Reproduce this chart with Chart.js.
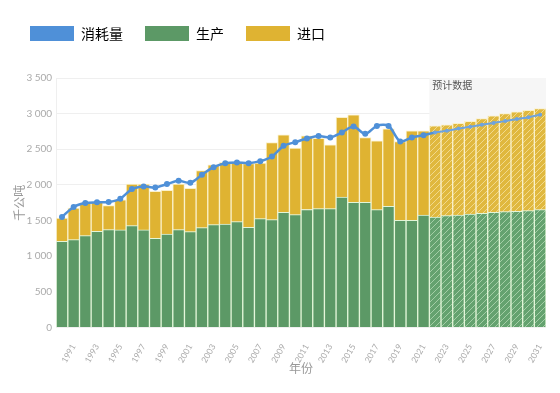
<!DOCTYPE html>
<html lang="zh">
<head>
    <meta charset="UTF-8">
    <title>消耗量 生产 进口</title>
    <script src="https://cdn.jsdelivr.net/npm/chart.js@4.4.1/dist/chart.umd.min.js"></script>
    <style>
        html, body { margin: 0; padding: 0; background: #fff; }
        #box { width: 560px; height: 393px; }
    </style>
</head>
<body>
<div id="box"><canvas id="chart01"></canvas></div>

<script>
    // ---------------- 数据 ----------------
    var years = [];
    for (var y = 1990; y <= 2031; y++) years.push(y);

    var firstForecast = 2022;

    // 生产
    var production = [1208, 1232, 1288, 1349, 1372, 1368, 1428, 1368, 1251, 1311,
        1372, 1344, 1400, 1442, 1451, 1484, 1404, 1526, 1512, 1615,
        1582, 1655, 1666, 1666, 1829, 1755, 1755, 1652, 1699, 1503,
        1503, 1577, 1549, 1568, 1577, 1591, 1600, 1615, 1624, 1629,
        1638, 1652];

    // 进口
    var imports = [327, 443, 457, 406, 336, 424, 583, 643, 658, 612,
        639, 607, 802, 840, 864, 831, 896, 779, 1083, 1087,
        933, 1033, 989, 896, 1120, 1227, 910, 966, 1087, 1106,
        1255, 1181, 1279, 1274, 1288, 1302, 1331, 1353, 1377, 1395,
        1409, 1419];

    // 消耗量
    var consumption = [1550, 1690, 1745, 1755, 1760, 1806, 1941, 1979, 1965, 2011,
        2058, 2030, 2142, 2249, 2305, 2315, 2305, 2333, 2399, 2548,
        2600, 2650, 2685, 2665, 2735, 2819, 2716, 2828, 2828, 2609,
        2665, 2697, 2735, 2760, 2790, 2815, 2845, 2870, 2895, 2925,
        2950, 2985];

    // ---------------- 样式 ----------------
    var BLUE = '#4f90d8';
    var GREEN = '#5c9966';
    var YELLOW = '#dfb332';
    var CJK = '"Noto Sans CJK SC", "Noto Sans", sans-serif';
    var NUM = 'Lato, "Noto Sans", sans-serif';

    // 斜线填充（预测部分）
    function hatch(base, line) {
        var c = document.createElement('canvas');
        c.width = 6; c.height = 6;
        var g = c.getContext('2d');
        g.fillStyle = base;
        g.fillRect(0, 0, 6, 6);
        g.strokeStyle = line;
        g.lineWidth = 1;
        g.beginPath();
        g.moveTo(0, 6); g.lineTo(6, 0);
        g.moveTo(-3, 3); g.lineTo(3, -3);
        g.moveTo(3, 9); g.lineTo(9, 3);
        g.stroke();
        return g.createPattern(c, 'repeat');
    }

    var greenHatch = hatch('#64a26f', 'rgba(190,225,190,0.7)');
    var yellowHatch = hatch('#e0b83e', 'rgba(245,225,160,0.8)');

    function isForecast(i) { return years[i] >= firstForecast; }

    // 预测区域背景 + 文字
    var forecastBand = {
        id: 'forecastBand',
        beforeDatasetsDraw: function (chart) {
            var x = chart.scales.x, area = chart.chartArea, ctx = chart.ctx;
            var i = years.indexOf(firstForecast);
            var half = (x.getPixelForValue(1) - x.getPixelForValue(0)) / 2;
            var left = x.getPixelForValue(i) - half;
            ctx.save();
            ctx.fillStyle = '#f6f6f6';
            ctx.fillRect(left, area.top, area.right - left, area.bottom - area.top);
            ctx.fillStyle = '#555';
            ctx.font = '10px ' + CJK;
            ctx.textBaseline = 'top';
            ctx.fillText('预计数据', left + 3, area.top + 2);
            ctx.restore();
        }
    };

    // 图例下方留空
    var legendGap = {
        id: 'legendGap',
        beforeInit: function (chart) {
            var fit = chart.legend.fit;
            chart.legend.fit = function () {
                fit.bind(chart.legend)();
                this.height += 27;
            };
        }
    };

    function fmt(v) {
        if (v >= 1000) {
            var r = String(v % 1000);
            while (r.length < 3) r = '0' + r;
            return Math.floor(v / 1000) + ' ' + r;
        }
        return String(v);
    }

    var legendColors = [BLUE, GREEN, YELLOW];

    const chart_1 = new Chart(document.getElementById('chart01'), {
        data: {
            labels: years,
            datasets: [
                {
                    type: 'line',
                    label: '消耗量',
                    data: consumption,
                    stack: 'line',
                    order: 0,
                    borderColor: BLUE,
                    backgroundColor: BLUE,
                    borderWidth: 2.5,
                    tension: 0.3,
                    pointRadius: function (c) { return isForecast(c.dataIndex) ? 2 : 3; },
                    pointBackgroundColor: function (c) { return isForecast(c.dataIndex) ? '#6ea3df' : BLUE; },
                    pointBorderWidth: 0,
                    segment: {
                        borderColor: function (c) { return isForecast(c.p0DataIndex) ? '#6ea3df' : BLUE; },
                        borderWidth: function (c) { return isForecast(c.p0DataIndex) ? 2 : 2.5; }
                    }
                },
                {
                    type: 'bar',
                    label: '生产',
                    data: production,
                    stack: 'bars',
                    order: 1,
                    backgroundColor: years.map(function (y, i) { return isForecast(i) ? greenHatch : GREEN; }),
                    borderColor: 'rgba(225,245,215,0.95)',
                    borderWidth: 1,
                    categoryPercentage: 1,
                    barPercentage: 1
                },
                {
                    type: 'bar',
                    label: '进口',
                    data: imports,
                    stack: 'bars',
                    order: 1,
                    backgroundColor: years.map(function (y, i) { return isForecast(i) ? yellowHatch : YELLOW; }),
                    borderColor: 'rgba(250,240,200,0.95)',
                    borderWidth: 1,
                    categoryPercentage: 1,
                    barPercentage: 1
                }
            ]
        },
        options: {
            responsive: true,
            maintainAspectRatio: false,
            animation: false,
            layout: { padding: { left: 8, right: 14, top: 4, bottom: 13 } },
            plugins: {
                tooltip: { enabled: false },
                legend: {
                    position: 'top',
                    align: 'start',
                    labels: {
                        boxWidth: 44,
                        boxHeight: 15,
                        padding: 22,
                        color: '#333',
                        font: { family: CJK, size: 14 },
                        generateLabels: function (chart) {
                            return chart.data.datasets.map(function (ds, i) {
                                return {
                                    text: ds.label,
                                    fillStyle: legendColors[i],
                                    strokeStyle: legendColors[i],
                                    lineWidth: 0,
                                    hidden: false,
                                    datasetIndex: i
                                };
                            });
                        }
                    }
                }
            },
            scales: {
                x: {
                    stacked: true,
                    grid: { display: false },
                    border: { display: false },
                    afterFit: function (scale) { scale.height -= 14; },
                    ticks: {
                        autoSkip: false,
                        minRotation: 60,
                        maxRotation: 60,
                        padding: 7,
                        color: '#aaa',
                        font: { family: NUM, size: 8.5 },
                        callback: function (v, i) { return years[i] % 2 ? String(years[i]) : ''; }
                    },
                    title: {
                        display: true,
                        text: '年份',
                        color: '#999',
                        font: { family: CJK, size: 12 }
                    }
                },
                y: {
                    stacked: true,
                    min: 0,
                    max: 3500,
                    grid: { color: '#efefef', drawTicks: false },
                    border: { color: '#efefef' },
                    afterFit: function (scale) { scale.width -= 8; },
                    ticks: {
                        stepSize: 500,
                        padding: 4,
                        color: '#aaa',
                        font: { family: NUM, size: 10 },
                        callback: function (v) { return fmt(v); }
                    },
                    title: {
                        display: true,
                        text: '千公吨',
                        color: '#999',
                        font: { family: CJK, size: 12 }
                    }
                }
            }
        },
        plugins: [forecastBand, legendGap]
    });
</script>
</body>
</html>
